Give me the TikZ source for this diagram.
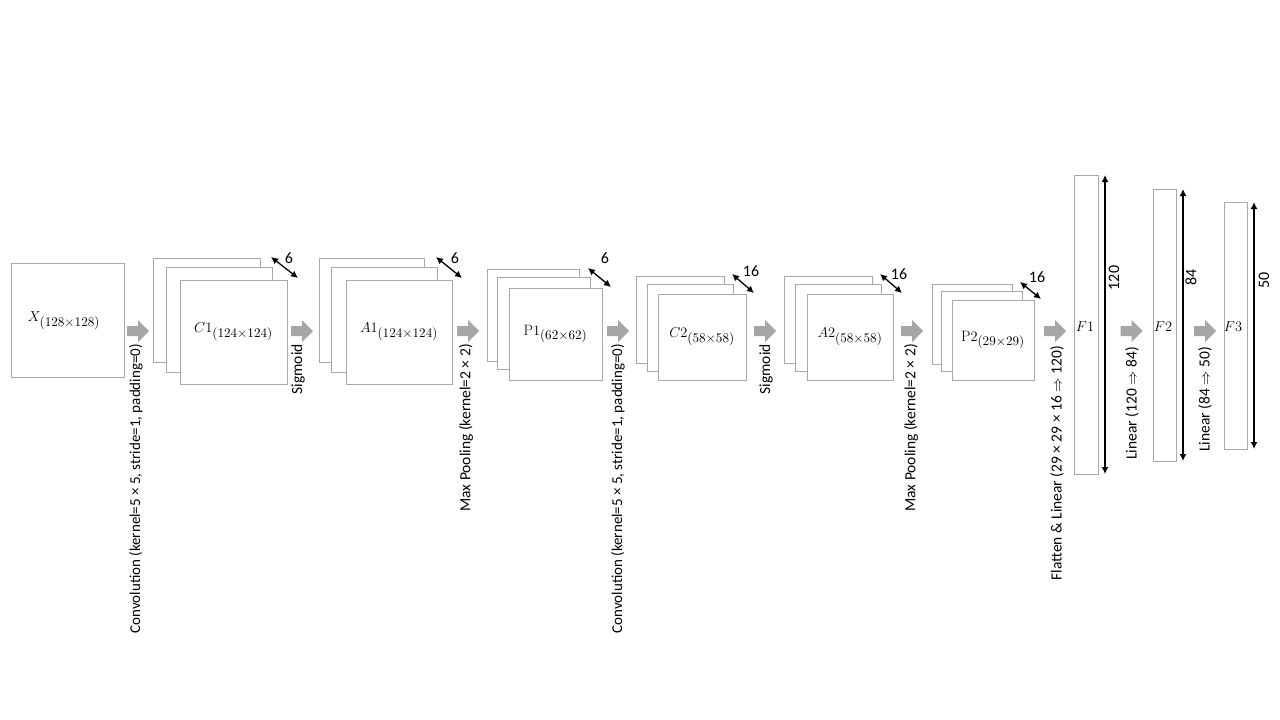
\documentclass[tikz,border=0pt]{standalone}
\usepackage{fontspec}
\setmainfont{Carlito}
\setmathrm{Latin Modern Roman}
\usetikzlibrary{arrows.meta}
\definecolor{boxgray}{RGB}{168,168,168}
\definecolor{arrgray}{RGB}{166,166,166}
\newcommand{\subsz}[1]{\scalebox{1.2}{$\scriptstyle(#1)$}}
\tikzset{
  fm/.style={draw=boxgray, line width=1pt, fill=white, inner sep=0pt},
  blockarrow/.pic={\fill[arrgray] (-11,-5) -- (0,-5) -- (0,-11) -- (11,0) -- (0,11) -- (0,5) -- (-11,5) -- cycle;},
  lab/.style={rotate=90, anchor=east, inner sep=0pt, font=\fontsize{15.5}{17}\selectfont},
  convlab/.style={lab, font=\fontsize{15}{17}\selectfont},
  num/.style={inner sep=0pt, font=\fontsize{16}{18}\selectfont},
  dbl/.style={line width=1.3pt, {Latex[length=7pt,width=7pt]}-{Latex[length=7pt,width=7pt]}},
  mlab/.style={inner sep=0pt, font=\fontsize{15}{18}\selectfont}
}
\begin{document}
\begin{tikzpicture}[x=1pt,y=-1pt]
\useasboundingbox (0,0) rectangle (1280,720);
% input
\node[fm, minimum width=113pt, minimum height=114pt] (x) at (67.5,320) {};
\node[mlab] (xl) at (64,321) {$X_{\subsz{128\times128}}$};
% C1
\node[fm, minimum width=107pt, minimum height=104pt] (c1a) at (206.5,310) {};
\node[fm, minimum width=106pt, minimum height=105pt] (c1b) at (219,319.5) {};
\node[fm, minimum width=107pt, minimum height=104pt] (c1c) at (233.5,332) {};
\node[mlab] (c1l) at (233.5,332) {$C1_{\subsz{124\times124}}$};
\coordinate (c1d1) at (271,257); \coordinate (c1d2) at (298,278);
\draw[dbl] (c1d1) -- (c1d2);
\node[num] (c1n) at (289,258) {6};
% A1
\node[fm, minimum width=105pt, minimum height=104pt] (a1a) at (371.5,310) {};
\node[fm, minimum width=106pt, minimum height=105pt] (a1b) at (384,319.5) {};
\node[fm, minimum width=106pt, minimum height=104pt] (a1c) at (399,332) {};
\node[mlab] (a1l) at (399,332) {$A1_{\subsz{124\times124}}$};
\coordinate (a1d1) at (436,257); \coordinate (a1d2) at (462,278);
\draw[dbl] (a1d1) -- (a1d2);
\node[num] (a1n) at (455,258) {6};
% P1
\node[fm, minimum width=92pt, minimum height=92pt] (p1a) at (533,315) {};
\node[fm, minimum width=93pt, minimum height=92pt] (p1b) at (543.5,323) {};
\node[fm, minimum width=93pt, minimum height=92pt] (p1c) at (555.5,334) {};
\node[mlab] (p1l) at (555.5,334) {$\mathrm{P}1_{\subsz{62\times62}}$};
\coordinate (p1d1) at (588,268); \coordinate (p1d2) at (611,287);
\draw[dbl] (p1d1) -- (p1d2);
\node[num] (p1n) at (605,258) {6};
% C2
\node[fm, minimum width=88pt, minimum height=87pt] (c2a) at (680,319.5) {};
\node[fm, minimum width=86pt, minimum height=87pt] (c2b) at (690,327.5) {};
\node[fm, minimum width=88pt, minimum height=86pt] (c2c) at (702,337) {};
\node[mlab] (c2l) at (702,337) {$C2_{\subsz{58\times58}}$};
\coordinate (c2d1) at (732,274); \coordinate (c2d2) at (754,293);
\draw[dbl] (c2d1) -- (c2d2);
\node[num] (c2n) at (751,271) {16};
% A2
\node[fm, minimum width=88pt, minimum height=87pt] (a2a) at (828,319.5) {};
\node[fm, minimum width=86pt, minimum height=87pt] (a2b) at (838,327.5) {};
\node[fm, minimum width=86pt, minimum height=86pt] (a2c) at (850,337) {};
\node[mlab] (a2l) at (850,337) {$A2_{\subsz{58\times58}}$};
\coordinate (a2d1) at (880,274); \coordinate (a2d2) at (902,293);
\draw[dbl] (a2d1) -- (a2d2);
\node[num] (a2n) at (899,274) {16};
% P2
\node[fm, minimum width=80pt, minimum height=80pt] (p2a) at (972,324) {};
\node[fm, minimum width=81pt, minimum height=80pt] (p2b) at (981.5,331) {};
\node[fm, minimum width=82pt, minimum height=80pt] (p2c) at (993,340) {};
\node[mlab] (p2l) at (993,340) {$\mathrm{P}2_{\subsz{29\times29}}$};
\coordinate (p2d1) at (1020,282); \coordinate (p2d2) at (1041,299);
\draw[dbl] (p2d1) -- (p2d2);
\node[num] (p2n) at (1037,277) {16};
% F1
\node[fm, minimum width=24pt, minimum height=299pt] (f1) at (1086,324.5) {};
\node[mlab] (f1l) at (1085,327) {$F1$};
\coordinate (f1d1) at (1105,175); \coordinate (f1d2) at (1105,474);
\draw[dbl] (f1d1) -- (f1d2);
\node[num, rotate=90] (f1n) at (1114,278) {120};
% F2
\node[fm, minimum width=23pt, minimum height=272pt] (f2) at (1164.5,325) {};
\node[mlab] (f2l) at (1163,327) {$F2$};
\coordinate (f2d1) at (1183,189); \coordinate (f2d2) at (1183,461);
\draw[dbl] (f2d1) -- (f2d2);
\node[num, rotate=90] (f2n) at (1191,277) {84};
% F3
\node[fm, minimum width=23pt, minimum height=247pt] (f3) at (1235.5,325.5) {};
\node[mlab] (f3l) at (1233,327) {$F3$};
\coordinate (f3d1) at (1254,202); \coordinate (f3d2) at (1254,449);
\draw[dbl] (f3d1) -- (f3d2);
\node[num, rotate=90] (f3n) at (1264,280) {50};
% block arrows
\pic (ar1) at (138,331) {blockarrow};
\pic (ar2) at (302,331) {blockarrow};
\pic (ar3) at (468,331) {blockarrow};
\pic (ar4) at (618,331) {blockarrow};
\pic (ar5) at (765,331) {blockarrow};
\pic (ar6) at (912,331) {blockarrow};
\pic (ar7) at (1055,331) {blockarrow};
\pic (ar8) at (1131.5,331) {blockarrow};
\pic (ar9) at (1205,331) {blockarrow};
% operation labels
\node[convlab] (l1) at (136,344) {Convolution (kernel=5 × 5, stride=1, padding=0)};
\node[lab] (l2) at (298,344) {Sigmoid};
\node[lab] (l3) at (466,344) {Max Pooling (kernel=2 × 2)};
\node[convlab] (l4) at (618,344) {Convolution (kernel=5 × 5, stride=1, padding=0)};
\node[lab] (l5) at (766,344) {Sigmoid};
\node[lab] (l6) at (911,344) {Max Pooling (kernel=2 × 2)};
\node[lab] (l7) at (1057,346) {Flatten \& Linear (29 × 29 × 16 $\Rightarrow$ 120)};
\node[lab] (l8) at (1132,347) {Linear (120 $\Rightarrow$ 84)};
\node[lab] (l9) at (1205,347) {Linear (84 $\Rightarrow$ 50)};
\end{tikzpicture}
\end{document}
